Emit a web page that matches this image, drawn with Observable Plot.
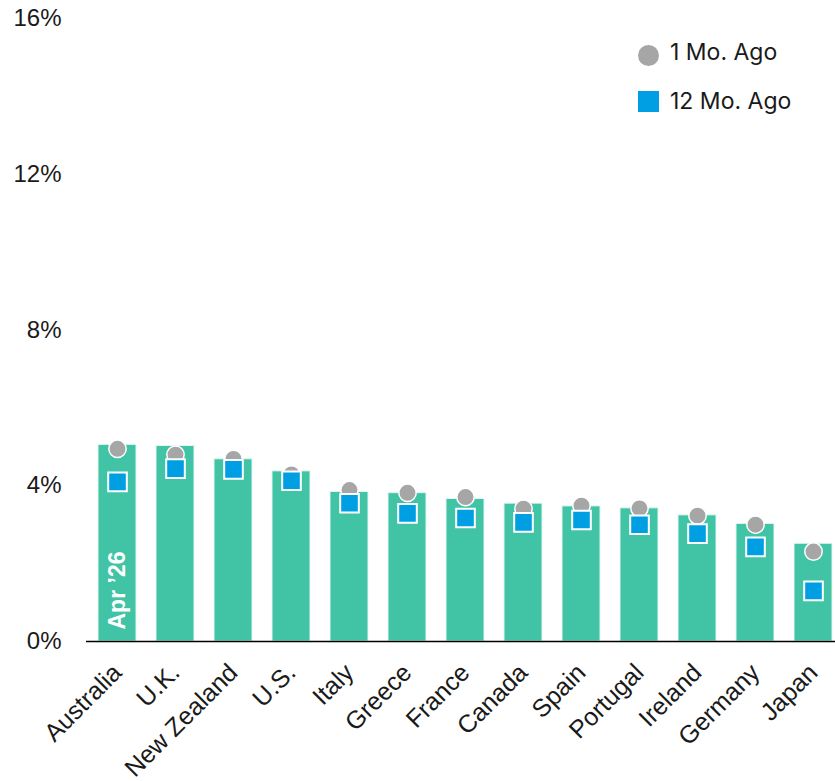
<!DOCTYPE html>
<html><head><meta charset="utf-8">
<script src="https://cdn.jsdelivr.net/npm/d3@7"></script>
<script src="https://cdn.jsdelivr.net/npm/@observablehq/plot@0.6"></script>
<style>
body{margin:0;background:#fff;}
#wrap{position:relative;width:835px;height:781px;overflow:hidden;}
.lg{position:absolute;font-family:Inter,"Open Sans",sans-serif;font-size:23px;color:#1a1a1a;line-height:1;}
.sw{position:absolute;}
</style></head><body><div id="wrap"></div>
<script>
const countries = ["Australia","U.K.","New Zealand","U.S.","Italy","Greece","France","Canada","Spain","Portugal","Ireland","Germany","Japan"];
const current = [5.05,5.02,4.68,4.37,3.84,3.81,3.66,3.54,3.47,3.42,3.24,3.02,2.51];
const oneMonthAgo = [4.95,4.80,4.69,4.29,3.89,3.82,3.71,3.41,3.49,3.42,3.23,3.00,2.31];
const twelveMonthsAgo = [4.10,4.44,4.42,4.13,3.55,3.29,3.17,3.06,3.12,3.00,2.77,2.43,1.30];
const yTicks = [0,4,8,12,16];
const barLabel = "Apr \u201926";
const legendLabels = ["1 Mo. Ago","12 Mo. Ago"];
const colors = {bar:"#40C4A5", m1:"#A6A6A6", m12:"#009FE3"};

const data = countries.map((c,i)=>({country:c, current:current[i], m1:oneMonthAgo[i], m12:twelveMonthsAgo[i]}));

const plot = Plot.plot({
  width:835, height:781, marginTop:18, marginBottom:140, marginLeft:86, marginRight:0,
  style:{fontFamily:"'Liberation Sans', Arial, sans-serif", fontSize:"24px", color:"#1a1a1a", background:"#fff"},
  x:{domain:countries, paddingInner:0.35, paddingOuter:0.11, align:0.79, label:null},
  y:{domain:[0,16], label:null},
  marks:[
    Plot.barY(data,{x:"country", y:"current", fill:colors.bar, stroke:"#e3f6f0", strokeWidth:1}),
    Plot.ruleY([0],{stroke:"#000", strokeWidth:1.5}),
    Plot.dot(data,{x:"country", y:"m1", r:8.7, fill:colors.m1, stroke:"#fff", strokeWidth:1.5}),
    Plot.dot(data,{x:"country", y:"m12", symbol:"square", r:10.5, fill:colors.m12, stroke:"#fff", strokeWidth:2}),
    Plot.text([data[0]],{x:"country", y:()=>0, text:()=>barLabel, rotate:-90, textAnchor:"start", dy:-12, fill:"#fff", fontWeight:"bold", fontSize:23}),
    Plot.axisY({ticks:yTicks, tickFormat:d=>d+"%", tickSize:0, tickPadding:25, label:null}),
    Plot.axisX({tickSize:0, tickPadding:27, tickRotate:-45, fontSize:25, label:null})
  ]
});
const wrap = document.getElementById("wrap");
wrap.appendChild(plot);

// legend overlay
const items = [
  {label:legendLabels[0], color:colors.m1, shape:"circle", top:45, textTop:41},
  {label:legendLabels[1], color:colors.m12, shape:"square", top:91, textTop:90}
];
for (const it of items) {
  const sw = document.createElement("div");
  sw.className = "sw";
  sw.style.left = "638px"; sw.style.top = (it.top)+"px";
  sw.style.width = "21px"; sw.style.height = "21px";
  sw.style.background = it.color;
  if (it.shape === "circle") sw.style.borderRadius = "50%";
  wrap.appendChild(sw);
  const t = document.createElement("div");
  t.className = "lg";
  t.style.left = "670px"; t.style.top = (it.textTop)+"px";
  t.textContent = it.label;
  wrap.appendChild(t);
}
</script>
</body></html>
